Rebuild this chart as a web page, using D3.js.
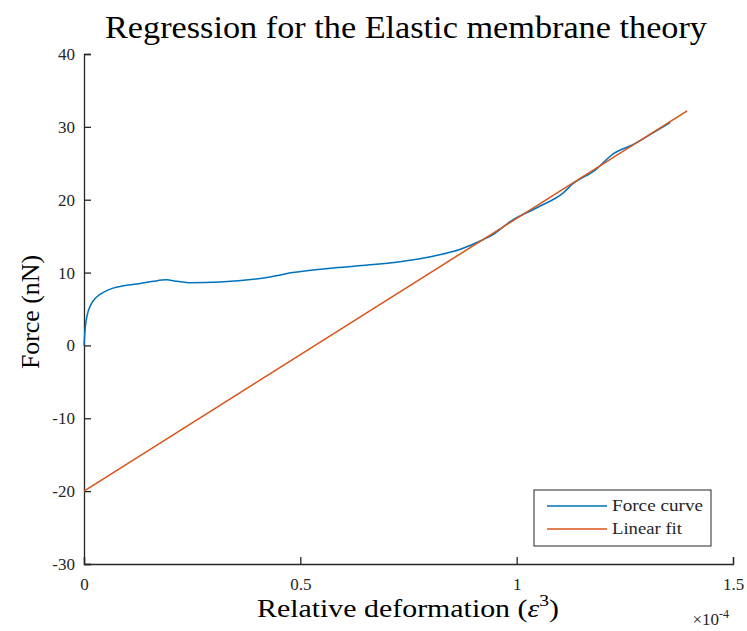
<!DOCTYPE html>
<html>
<head>
<meta charset="utf-8">
<script src="https://cdn.jsdelivr.net/npm/d3@7"></script>
<style>
  body { margin: 0; background: #fff; }
  svg text { font-family: "Liberation Serif", "DejaVu Serif", serif; }
</style>
</head>
<body>
<div id="chart"></div>
<script>
// Force curve (x in units of 1e-4)
var forceX = [0, 0.003, 0.008, 0.015, 0.025, 0.037, 0.055, 0.083, 0.13, 0.16, 0.19, 0.215, 0.245, 0.314, 0.43, 0.483, 0.569, 0.65, 0.73, 0.807, 0.87, 0.922, 0.945, 0.985, 1.05, 1.107, 1.13, 1.18, 1.223, 1.27, 1.31, 1.347, 1.355];
var forceY = [0, 2.5, 4.3, 5.5, 6.4, 7.0, 7.6, 8.1, 8.5, 8.8, 9.0, 8.8, 8.6, 8.7, 9.4, 10.0, 10.6, 11.0, 11.5, 12.25, 13.2, 14.5, 15.2, 17.0, 19.0, 20.9, 22.2, 24.0, 26.3, 27.6, 29.0, 30.3, 30.6];
// Linear fit end points
var fitX = [0, 1.394];
var fitY = [-20, 32.2];

var xTicks = [0, 0.5, 1, 1.5];
var yTicks = [-30, -20, -10, 0, 10, 20, 30, 40];
var seriesNames = ["Force curve", "Linear fit"];
var seriesColors = ["#0072BD", "#D95319"];

var margin = { top: 54, right: 14, bottom: 67, left: 84 },
    W = 747, H = 631,
    width = W - margin.left - margin.right,
    height = H - margin.top - margin.bottom;

var svg = d3.select("#chart").append("svg")
    .attr("width", W)
    .attr("height", H);

var g = svg.append("g")
    .attr("transform", "translate(" + margin.left + "," + margin.top + ")");

var x = d3.scaleLinear().domain([0, 1.5]).range([0, width]);
var y = d3.scaleLinear().domain([-30, 40]).range([height, 0]);

// axes, ticks inward like matlab
var xAxis = d3.axisBottom(x).tickValues(xTicks).tickSize(-7).tickPadding(14)
    .tickFormat(d3.format("~g"));
var yAxis = d3.axisLeft(y).tickValues(yTicks).tickSize(-7).tickPadding(9)
    .tickFormat(function (d) { return d; });

var gx = g.append("g")
    .attr("transform", "translate(0," + height + ")")
    .call(xAxis);
var gy = g.append("g").call(yAxis);

[gx, gy].forEach(function (a) {
    a.select(".domain").attr("stroke", "#262626").attr("stroke-width", 1.3);
    a.selectAll(".tick line").attr("stroke", "#262626").attr("stroke-width", 1.3);
    a.selectAll(".tick text")
        .attr("fill", "#262626")
        .style("font-size", "17px")
        .style("font-family", "Liberation Serif, serif");
});

// lines
var line = d3.line()
    .x(function (d) { return x(d[0]); })
    .y(function (d) { return y(d[1]); });

var forceData = forceX.map(function (v, i) { return [v, forceY[i]]; });
var fitData = fitX.map(function (v, i) { return [v, fitY[i]]; });

g.append("path")
    .datum(forceData)
    .attr("fill", "none")
    .attr("stroke", seriesColors[0])
    .attr("stroke-width", 1.5)
    .attr("d", line.curve(d3.curveMonotoneX));

g.append("path")
    .datum(fitData)
    .attr("fill", "none")
    .attr("stroke", seriesColors[1])
    .attr("stroke-width", 1.5)
    .attr("d", line.curve(d3.curveLinear));

// title + labels
svg.append("text")
    .attr("x", 406).attr("y", 38)
    .attr("text-anchor", "middle")
    .attr("textLength", 602)
    .attr("lengthAdjust", "spacingAndGlyphs")
    .style("font-size", "31px")
    .attr("fill", "#000")
    .text("Regression for the Elastic membrane theory");

svg.append("text")
    .attr("transform", "translate(39,312) rotate(-90)")
    .attr("text-anchor", "middle")
    .attr("textLength", 114)
    .attr("lengthAdjust", "spacingAndGlyphs")
    .style("font-size", "26px")
    .text("Force (nN)");

var xl = svg.append("text")
    .attr("x", 408).attr("y", 617)
    .attr("text-anchor", "middle")
    .attr("textLength", 302)
    .attr("lengthAdjust", "spacingAndGlyphs")
    .style("font-size", "26px");
xl.append("tspan").text("Relative deformation (");
xl.append("tspan").style("font-style", "italic").text("\u03B5");
xl.append("tspan").attr("dy", -11).style("font-size", "17px").text("3");
xl.append("tspan").attr("dy", 11).text(")");

// exponent label
var ex = svg.append("text")
    .attr("x", 729).attr("y", 625)
    .attr("text-anchor", "end")
    .attr("fill", "#262626")
    .style("font-size", "17px");
ex.append("tspan").text("\u00D710");
ex.append("tspan").attr("dy", -7).style("font-size", "12px").text("-4");

// legend
var leg = svg.append("g").attr("transform", "translate(534,490)");
leg.append("rect")
    .attr("width", 177).attr("height", 56)
    .attr("fill", "#fff")
    .attr("stroke", "#262626")
    .attr("stroke-width", 1);
var legLen = [91, 70];
seriesNames.forEach(function (n, i) {
    var yy = 16 + i * 23;
    leg.append("line")
        .attr("x1", 13).attr("x2", 73)
        .attr("y1", yy).attr("y2", yy)
        .attr("stroke", seriesColors[i])
        .attr("stroke-width", 1.5);
    leg.append("text")
        .attr("x", 78).attr("y", yy + 5)
        .attr("fill", "#262626")
        .attr("textLength", legLen[i])
        .attr("lengthAdjust", "spacingAndGlyphs")
        .style("font-size", "17px")
        .text(n);
});
</script>
</body>
</html>
